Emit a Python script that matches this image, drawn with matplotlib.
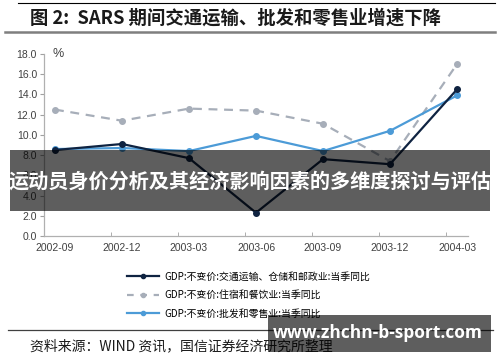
import matplotlib
matplotlib.use("Agg")
import matplotlib.pyplot as plt
from matplotlib.lines import Line2D
from matplotlib.patches import Rectangle

plt.rcParams['font.family'] = ['Noto Sans CJK SC', 'DejaVu Sans']

# chart data
quarters = ["2002-09", "2002-12", "2003-03", "2003-06", "2003-09", "2003-12", "2004-03"]
transport = [8.5, 9.1, 7.7, 2.3, 7.6, 7.1, 14.5]
hotel = [12.5, 11.4, 12.6, 12.4, 11.1, 7.4, 17.0]
retail = [8.6, 8.7, 8.4, 9.9, 8.4, 10.4, 13.9]
labels = ["GDP:不变价:交通运输、仓储和邮政业:当季同比",
          "GDP:不变价:住宿和餐饮业:当季同比",
          "GDP:不变价:批发和零售业:当季同比"]
y_ticks = [0, 2, 4, 6, 8, 10, 12, 14, 16, 18]

W, H = 500, 362


def fx(x):
    return x / W


def fy(y):
    return 1 - y / H


fig = plt.figure(figsize=(5, 3.62), dpi=100)

# title block
fig.add_artist(Line2D([fx(18), fx(495)], [fy(3), fy(3)], color="black", lw=0.8))
fig.add_artist(Line2D([fx(5), fx(495)], [fy(32), fy(32)], color="#7f7f7f", lw=1.8))
fig.text(fx(30), fy(18), "图 2:  SARS 期间交通运输、批发和零售业增速下降",
         fontsize=13.2, fontweight="bold", color="#1a1a1a", va="center", ha="left")

ax = fig.add_axes([fx(44), fy(236), fx(468) - fx(44), fy(54) - fy(236)])
x = list(range(len(quarters)))

ax.plot(x, hotel, color="#a7aeb9", lw=1.6, dashes=(4, 3), marker="o", ms=4, zorder=2)
ax.plot(x, retail, color="#4c9bd7", lw=1.6, marker="o", ms=4, zorder=3)
ax.plot(x, transport, color="#0f2341", lw=1.6, marker="o", ms=4, zorder=4)

ax.set_xlim(-0.164, 6.164)
ax.set_ylim(0, 18)
ax.set_yticks(y_ticks)
ax.set_yticklabels([f"{v:.1f}" for v in y_ticks], fontfamily="Liberation Sans",
                   fontsize=7.5, color="#404040")
ax.set_xticks(x)
ax.set_xticklabels(quarters, fontfamily="Liberation Sans", fontsize=7.5, color="#404040")
ax.tick_params(axis="x", length=0, pad=5)
ax.set_xticks([i - 0.164 for i in range(7)], minor=True)
ax.tick_params(axis="x", which="minor", length=3, direction="in", color="#a0a0a0")
ax.tick_params(axis="y", length=3, color="#a0a0a0", pad=2)
for s in ["top", "right"]:
    ax.spines[s].set_visible(False)
for s in ["left", "bottom"]:
    ax.spines[s].set_color("#b0b0b0")
    ax.spines[s].set_linewidth(0.9)
ax.text(0.02, 1.0, "%", transform=ax.transAxes, fontfamily="Liberation Sans",
        fontsize=9, color="#404040", va="center", ha="left")

# legend
handles = [
    Line2D([], [], color="#0f2341", lw=1.6, marker="o", ms=3),
    Line2D([], [], color="#a7aeb9", lw=1.6, dashes=(3, 3), marker="o", ms=3),
    Line2D([], [], color="#4c9bd7", lw=1.6, marker="o", ms=3),
]
fig.legend(handles, labels, loc="upper left", bbox_to_anchor=(fx(118), fy(263)),
           frameon=False, handlelength=3.3, handletextpad=0.5,
           labelspacing=0.85, prop={"weight": "light", "size": 7.1})

# source
fig.add_artist(Line2D([fx(8), fx(493)], [fy(330), fy(330)], color="#404040", lw=0.9))
fig.text(fx(30), fy(346), "资料来源：WIND 资讯，国信证券经济研究所整理",
         fontsize=10, color="#1a1a1a", va="center", ha="left", fontweight="light")

# overlay banners
fig.add_artist(Rectangle((fx(10), fy(211)), fx(490) - fx(10), fy(150) - fy(211),
                         transform=fig.transFigure, color="black", alpha=0.63, lw=0, zorder=10))
fig.text(fx(250), fy(181), "运动员身价分析及其经济影响因素的多维度探讨与评估",
         fontsize=14.5, fontweight="bold", color="white", ha="center", va="center", zorder=11)
fig.add_artist(Rectangle((fx(268), fy(352)), fx(491) - fx(268), fy(315) - fy(352),
                         transform=fig.transFigure, color="black", alpha=0.63, lw=0, zorder=10))
fig.text(fx(378), fy(333), "www.zhchn-b-sport.com", fontfamily="Open Sans",
         fontsize=12.5, fontweight="bold", color="white", ha="center", va="center", zorder=11)

fig.savefig("out.png", dpi=100)
